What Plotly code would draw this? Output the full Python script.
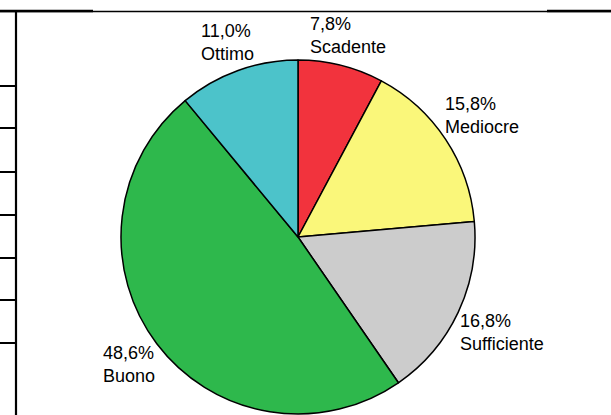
import math
import plotly.graph_objects as go

# Data
labels = ["Scadente", "Mediocre", "Sufficiente", "Buono", "Ottimo"]
values = [7.8, 15.8, 16.8, 48.6, 11.0]
colors = ["#F2333D", "#FAF77A", "#CCCCCC", "#2EB84C", "#4CC3CA"]

W, H = 611, 415
FS = 18
# pie geometry (pixels)
cx, cy, r = 298, 237, 177
dom_x = [(cx - r) / W, (cx + r) / W]
dom_y = [(H - cy - r) / H, (H - cy + r) / H]

fig = go.Figure(go.Pie(
    labels=labels, values=values, sort=False, direction="clockwise", rotation=0,
    marker=dict(colors=colors, line=dict(color="black", width=1.5)),
    textinfo="none", hoverinfo="label+percent", showlegend=False,
    domain=dict(x=dom_x, y=dom_y),
))

# approximate Arial advance widths (per 1000 em) for label box estimation
AW = {c: 556 for c in "0123456789"}
AW.update({",": 278, "%": 889, "S": 667, "M": 833, "O": 778, "B": 667,
           "a": 556, "c": 500, "d": 556, "e": 556, "f": 278, "i": 222, "m": 833,
           "n": 556, "o": 556, "r": 333, "t": 278, "u": 556})


def tw(s):
    return sum(AW.get(c, 556) for c in s) * FS / 1000


# outside labels computed from the data (mid-angle of each slice)
total = sum(values)
annotations = []
cum = 0.0
gap = 1
for lab, v in zip(labels, values):
    mid = (cum + v / 2) / total * 2 * math.pi
    cum += v
    pct = f"{v / total * 100:.1f}".replace(".", ",") + "%"
    w = max(tw(pct), tw(lab))
    h = 42
    sx, sy = math.sin(mid), math.cos(mid)
    support = w / 2 * abs(sx) + h / 2 * abs(sy)
    d = r + gap + support
    px = cx + d * sx
    py = cy - d * sy
    annotations.append(dict(
        x=px / W, y=1 - py / H, xref="paper", yref="paper",
        text=pct + "<br>" + lab, showarrow=False, xanchor="center", yanchor="middle",
        align="left",
        font=dict(family="Liberation Sans, Arial, sans-serif", size=FS, color="black"),
    ))

# spreadsheet-like frame lines
def hline(x0, x1, y, w):
    return dict(type="line", xref="paper", yref="paper", x0=x0 / W, x1=x1 / W,
                y0=1 - y / H, y1=1 - y / H, line=dict(color="black", width=w))

shapes = [
    hline(0, 611, 11.5, 1.3),
    hline(0, 93, 11, 2.5),
    hline(547, 611, 11, 2.5),
    dict(type="line", xref="paper", yref="paper", x0=16 / W, x1=16 / W,
         y0=1 - 11 / H, y1=0, line=dict(color="black", width=2.2)),
]
for yy in [86, 128, 172, 215, 258, 300, 343]:
    shapes.append(hline(0, 16, yy, 2))

fig.update_layout(
    width=W, height=H, margin=dict(l=0, r=0, t=0, b=0),
    paper_bgcolor="white", plot_bgcolor="white",
    annotations=annotations, shapes=shapes, separators=",.",
)

fig.write_html("out.html", config={"displayModeBar": False},
               post_script="document.body.style.margin='0';")
